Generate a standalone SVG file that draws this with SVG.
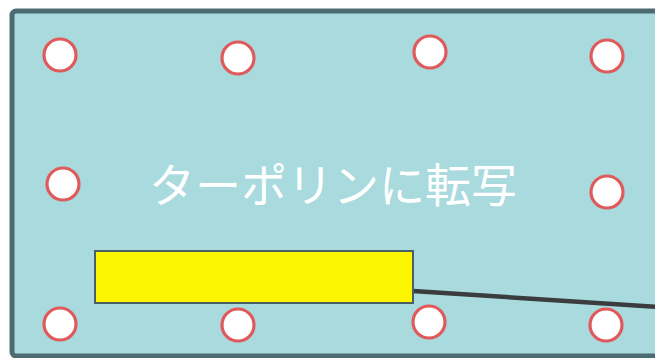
<svg xmlns="http://www.w3.org/2000/svg" width="655" height="358" viewBox="0 0 655 358">
<style>
.grommet{fill:#ffffff;stroke:#e05a5c;stroke-width:3.2}
.label{font-family:"Noto Sans CJK JP","Noto Sans",sans-serif;font-size:46px;fill:#ffffff;font-weight:400}
</style>
<rect width="655" height="358" fill="#ffffff"/>
<g id="sheet">
<rect x="12" y="11" width="660" height="345" rx="4" fill="#a9dade" stroke="#4c6c72" stroke-width="5"/>
</g>
<g id="grommets">
<circle class="grommet" cx="60" cy="55" r="16"/>
<circle class="grommet" cx="238" cy="58" r="16"/>
<circle class="grommet" cx="430" cy="52" r="16"/>
<circle class="grommet" cx="607" cy="56" r="16"/>
<circle class="grommet" cx="63" cy="184" r="16"/>
<circle class="grommet" cx="607" cy="192" r="16"/>
<circle class="grommet" cx="60" cy="324" r="16"/>
<circle class="grommet" cx="238" cy="325" r="16"/>
<circle class="grommet" cx="429" cy="322" r="16"/>
<circle class="grommet" cx="606" cy="325" r="16"/>
</g>
<g id="title">
<text class="label" x="333" y="202" text-anchor="middle">ターポリンに転写</text>
</g>
<g id="connectors">
<line x1="413" y1="291" x2="660" y2="307" stroke="#3a3c3e" stroke-width="4.5"/>
</g>
<g id="yellow-box">
<rect x="95" y="251" width="318" height="52" fill="#fbf500" stroke="#4a6066" stroke-width="2"/>
</g>
</svg>
